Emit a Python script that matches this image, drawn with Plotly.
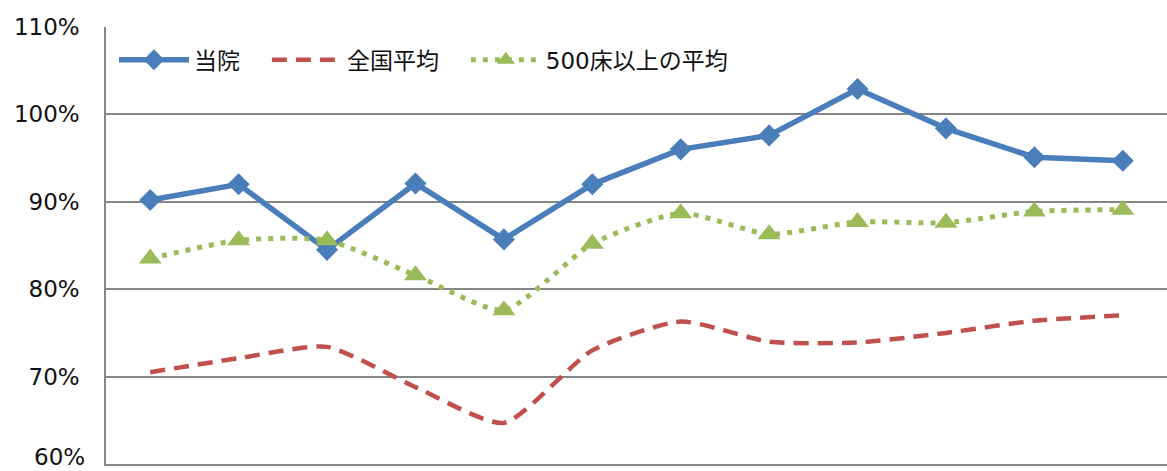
import plotly.graph_objects as go

categories = [str(i) for i in range(1, 13)]
touin = [90.2, 92.0, 84.5, 92.1, 85.7, 92.0, 96.0, 97.6, 102.9, 98.4, 95.1, 94.7]
zenkoku = [70.5, 72.1, 73.4, 68.8, 64.7, 73.0, 76.3, 74.0, 73.9, 75.0, 76.4, 77.0]
large = [83.5, 85.6, 85.6, 81.6, 77.6, 85.2, 88.7, 86.3, 87.7, 87.6, 88.9, 89.1]

names = ["当院", "全国平均", "500床以上の平均"]
tick_values = [60, 70, 80, 90, 100, 110]
tick_labels = ["60%", "70%", "80%", "90%", "100%", "110%"]
pad = "\u00a0\u00a0\u00a0"

fig = go.Figure()
fig.add_trace(go.Scatter(
    x=categories, y=touin, name=names[0] + pad, mode="lines+markers",
    line=dict(color="#4A7EBB", width=5.5),
    marker=dict(symbol="diamond", size=17, color="#4A7EBB"),
))
fig.add_trace(go.Scatter(
    x=categories, y=zenkoku, name=names[1] + pad, mode="lines",
    line=dict(color="#C0504D", width=4.5, dash="15px,9px", shape="spline", smoothing=0.6),
))
fig.add_trace(go.Scatter(
    x=categories, y=large, name=names[2], mode="lines+markers",
    line=dict(color="#9BBB59", width=5, dash="5px,7px", shape="spline", smoothing=0.6),
    marker=dict(symbol="triangle-up", size=20, color="#9BBB59"),
))

# bottom tick label drawn as an annotation kept inside the page
shown_ticktext = [""] + tick_labels[1:]
fig.add_annotation(
    xref="paper", yref="y", x=0, y=tick_values[0], text=tick_labels[0],
    showarrow=False, xanchor="right", yanchor="bottom", xshift=-20, yshift=-7,
    borderpad=0,
    font=dict(family="Verdana, DejaVu Sans", size=23, color="#111111"),
)

fig.update_layout(
    width=1167, height=471,
    margin=dict(l=106, r=0, t=27, b=7, autoexpand=False),
    paper_bgcolor="white", plot_bgcolor="white",
    font=dict(family="Verdana, DejaVu Sans, Noto Sans CJK JP", size=22, color="#111111"),
    showlegend=True,
    legend=dict(
        orientation="h", x=0.0075, xanchor="left", y=0.925, yanchor="middle",
        bgcolor="rgba(0,0,0,0)",
        font=dict(family="DejaVu Sans, Noto Sans CJK JP", size=23, color="#111111"),
        itemwidth=70, tracegroupgap=0,
    ),
    xaxis=dict(
        type="category", range=[-0.5, 11.5], showticklabels=False,
        showgrid=False, showline=True, linecolor="#868686", linewidth=1.5,
        ticks="", zeroline=False, automargin=False,
    ),
    yaxis=dict(
        range=[60, 110], tickmode="array", tickvals=tick_values, ticktext=shown_ticktext,
        showgrid=True, gridcolor="#868686", gridwidth=1.5,
        showline=True, linecolor="#868686", linewidth=1.5,
        ticks="", ticklabelstandoff=20, zeroline=False,
        ticklabeloverflow="allow", automargin=False,
        tickfont=dict(family="Verdana, DejaVu Sans", size=23, color="#111111"),
    ),
)

fig.write_html(
    "out.html",
    config={"displayModeBar": False},
    post_script="document.body.style.margin='0';document.body.style.overflow='hidden';",
)
